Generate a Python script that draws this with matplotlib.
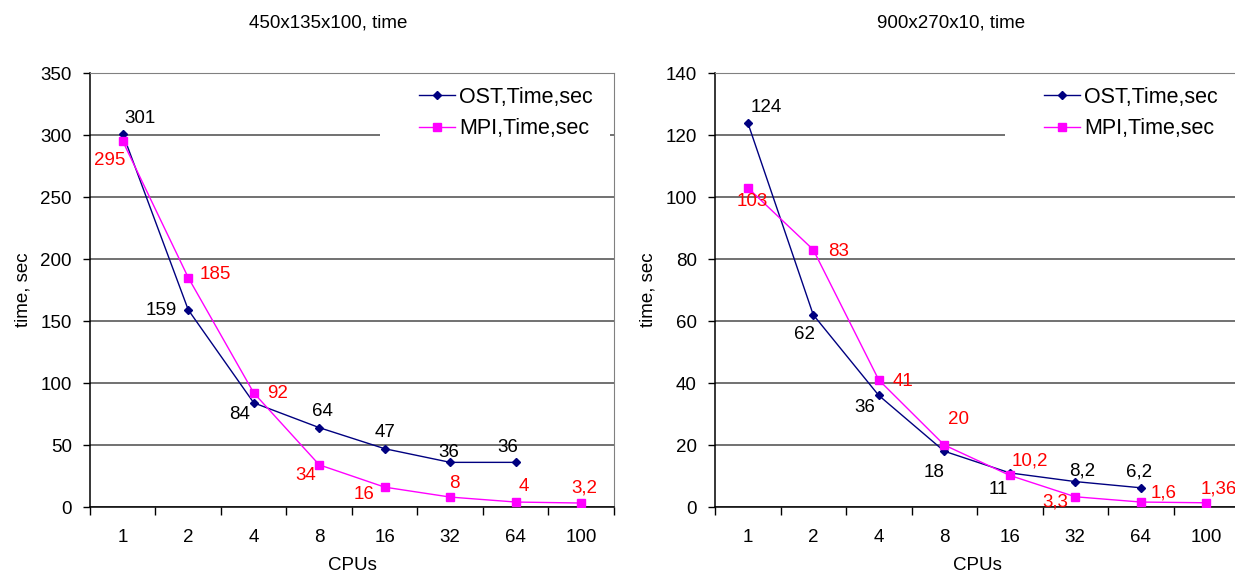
import matplotlib
matplotlib.use("Agg")
import matplotlib.pyplot as plt
from matplotlib.patches import Rectangle

plt.rcParams['font.family'] = ['Liberation Sans', 'DejaVu Sans']

cpus = ["1", "2", "4", "8", "16", "32", "64", "100"]

# 450x135x100 grid
left_title = "450x135x100, time"
left_ost = [301, 159, 84, 64, 47, 36, 36]
left_mpi = [295, 185, 92, 34, 16, 8, 4, 3.2]

# 900x270x10 grid
right_title = "900x270x10, time"
right_ost = [124, 62, 36, 18, 11, 8.2, 6.2]
right_mpi = [103, 83, 41, 20, 10.2, 3.3, 1.6, 1.36]

ost_name = "OST,Time,sec"
mpi_name = "MPI,Time,sec"

# label offsets in pixels (dx, dy) for each point
left_ost_off = [(17, 15), (-27, -1), (-14, -12), (3, 16), (0, 16), (-1, 10), (-8, 15)]
left_mpi_off = [(-13, -19), (27, 3), (24, -1), (-14, -11), (-21, -7), (4, 14), (8, 16), (3, 15)]
right_ost_off = [(19, 15), (-9, -20), (-14, -12), (-10, -21), (-11, -17), (7, 11), (-2, 16)]
right_mpi_off = [(4, -14), (25, -2), (24, -2), (14, 25), (20, 14), (-20, -5), (23, 9), (13, 14)]

W, H = 1235, 577
fig = plt.figure(figsize=(W / 100, H / 100), dpi=100)
fig.patch.set_facecolor('white')

FS = 13.5
LEG_FS = 15.5
OST_C = '#000080'
MPI_C = '#FF00FF'
GRID_C = '#4a4a4a'


def fmt(v):
    return f"{v:g}".replace('.', ',')


def panel(left_px, title, title_x, ost, mpi, ymax, ystep, ost_off, mpi_off):
    ax = fig.add_axes([left_px / W, (H - 507) / H, 524 / W, 434 / H])
    n = len(cpus)
    xs = list(range(n))
    ax.set_xlim(-0.5, n - 0.5)
    ax.set_ylim(0, ymax)
    ax.set_yticks(list(range(0, ymax + 1, ystep)))
    ax.set_xticks(xs)
    ax.set_xticklabels(cpus)
    ax.set_xticks([i - 0.5 for i in range(n + 1)], minor=True)
    ax.tick_params(axis='x', which='major', length=0, pad=16, labelsize=FS)
    ax.tick_params(axis='x', which='minor', length=6, width=1, direction='out', color='black')
    ax.tick_params(axis='y', which='major', length=5, width=1, pad=8, labelsize=FS)
    ax.grid(axis='y', color=GRID_C, lw=1.1, zorder=0)
    ax.set_axisbelow(True)
    for s in ['top', 'right']:
        ax.spines[s].set_color('#808080')
    for s in ['left', 'bottom']:
        ax.spines[s].set_color('black')
        ax.spines[s].set_linewidth(1.1)

    ax.plot(xs[:len(ost)], ost, color=OST_C, lw=1, marker='D', ms=4.5, zorder=3, label=ost_name)
    ax.plot(xs[:len(mpi)], mpi, color=MPI_C, lw=1, marker='s', ms=6, zorder=3, label=mpi_name)

    for i, v in enumerate(ost):
        ax.annotate(fmt(v), (xs[i], v), xytext=ost_off[i], textcoords='offset pixels',
                    ha='center', va='center', fontsize=FS, color='black', zorder=4)
    for i, v in enumerate(mpi):
        ax.annotate(fmt(v), (xs[i], v), xytext=mpi_off[i], textcoords='offset pixels',
                    ha='center', va='center', fontsize=FS, color='#FF0000', zorder=4)

    # white legend panel hiding the gridline behind it
    ax.add_patch(Rectangle((0.553, (507 - 143) / 434), 0.44, 63 / 434,
                           transform=ax.transAxes, facecolor='white', edgecolor='none', zorder=1))
    ax.legend(loc='upper left', bbox_to_anchor=(0.628, (507 - 87) / 434),
              frameon=False, fontsize=LEG_FS, handlelength=1.65, handletextpad=0.2,
              labelspacing=0.48, borderpad=0, borderaxespad=0)

    ax.set_xlabel("CPUs", fontsize=FS)
    ax.xaxis.label.set_va('center')
    ax.xaxis.set_label_coords(0.5, (507 - 565) / 434)
    ax.set_ylabel("time, sec", fontsize=FS)
    ax.yaxis.label.set_va('center')
    ax.yaxis.set_label_coords(-0.127, 0.5)

    fig.text(title_x / W, 1 - 23 / H, title, ha='center', va='center', fontsize=FS)
    return ax


panel(90, left_title, 328, left_ost, left_mpi, 350, 50, left_ost_off, left_mpi_off)
panel(715, right_title, 951, right_ost, right_mpi, 140, 20, right_ost_off, right_mpi_off)

fig.savefig("out.png", dpi=100)
